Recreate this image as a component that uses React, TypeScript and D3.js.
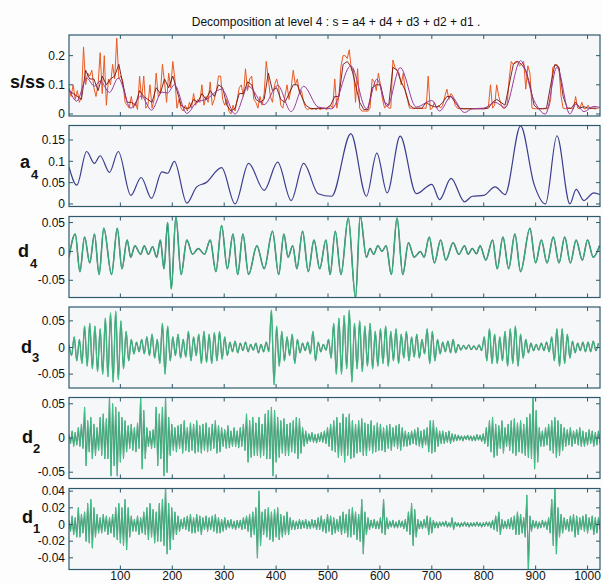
import React from "react";
import * as d3 from "d3";

const xTicks = [100, 200, 300, 400, 500, 600, 700, 800, 900, 1000];

// a4: level-4 approximation, turning points (sample index / value)
const a4Idx = [1, 16, 35, 50, 61, 79, 96, 120, 140, 160, 180, 191, 204, 228, 247, 265, 295, 321, 347, 377, 403, 429, 453, 481, 507, 544, 574, 594, 614, 639, 670, 700, 715, 737, 763, 778, 800, 822, 841, 871, 897, 919, 941, 966, 978, 993, 1012, 1024];
const a4Val = [0.087, 0.044, 0.123, 0.095, 0.113, 0.074, 0.123, 0.02, 0.062, 0.013, 0.075, 0.072, 0.1, 0.002, 0.04, 0.05, 0.085, 0.0, 0.095, 0.032, 0.098, 0.008, 0.095, 0.024, 0.018, 0.165, 0.018, 0.119, 0.026, 0.159, 0.024, 0.046, 0.01, 0.06, 0.005, 0.018, 0.02, 0.04, 0.022, 0.183, 0.046, 0.0, 0.16, 0.0, 0.034, 0.008, 0.026, 0.022];

// s: signal, every 4th sample starting at 1
const sVal = [
  0.09, 0.06, 0.1, 0.05, 0.08, 0.04, 0.06, 0.23, 0.1, 0.14,
  0.13, 0.15, 0.09, 0.06, 0.1, 0.21, 0.07, 0.2, 0.03, 0.12,
  0.1, 0.17, 0.12, 0.26, 0.12, 0.13, 0.11, 0.04, 0.03, 0.02,
  0.06, 0.02, 0.04, 0.015, 0.13, 0.05, 0.13, 0.02, 0.03, 0.1,
  0.02, 0.05, 0.14, 0.06, 0.07, 0.17, 0.11, 0.04, 0.14, 0.09,
  0.18, 0.12, 0.02, 0.05, 0.02, 0.01, 0.03, 0.01, 0.04, 0.02,
  0.07, 0.03, 0.05, 0.04, 0.1, 0.03, 0.06, 0.04, 0.11, 0.03,
  0.05, 0.08, 0.13, 0.13, 0.05, 0.03, 0.05, 0.01, 0.0, 0.03,
  0.01, 0.05, 0.09, 0.1, 0.06, 0.155, 0.08, 0.12, 0.13, 0.05,
  0.04, 0.02, 0.06, 0.03, 0.07, 0.18, 0.12, 0.06, 0.04, 0.1,
  0.12, 0.09, 0.03, 0.02, 0.06, 0.1, 0.05, 0.09, 0.15, 0.1,
  0.12, 0.07, 0.08, 0.04, 0.02, 0.015, 0.02, 0.015, 0.02, 0.015,
  0.02, 0.015, 0.02, 0.02, 0.015, 0.02, 0.03, 0.02, 0.12, 0.02,
  0.06, 0.165, 0.2, 0.2, 0.19, 0.22, 0.15, 0.155, 0.04, 0.155,
  0.02, 0.01, 0.01, 0.01, 0.01, 0.02, 0.12, 0.11, 0.08, 0.14,
  0.1, 0.05, 0.02, 0.03, 0.02, 0.02, 0.185, 0.16, 0.15, 0.14,
  0.1, 0.14, 0.075, 0.05, 0.02, 0.02, 0.018, 0.02, 0.018, 0.02,
  0.018, 0.02, 0.02, 0.13, 0.015, 0.02, 0.04, 0.02, 0.03, 0.02,
  0.03, 0.06, 0.085, 0.05, 0.07, 0.06, 0.03, 0.02, 0.018, 0.018,
  0.018, 0.018, 0.018, 0.018, 0.018, 0.018, 0.018, 0.018, 0.018, 0.018,
  0.018, 0.02, 0.025, 0.1, 0.02, 0.03, 0.1, 0.06, 0.035, 0.02,
  0.02, 0.03, 0.12, 0.18, 0.17, 0.18, 0.18, 0.165, 0.17, 0.18,
  0.085, 0.165, 0.14, 0.02, 0.018, 0.018, 0.018, 0.018, 0.018, 0.018,
  0.018, 0.02, 0.05, 0.16, 0.165, 0.17, 0.155, 0.06, 0.02, 0.018,
  0.018, 0.02, 0.018, 0.018, 0.06, 0.02, 0.018, 0.04, 0.018, 0.018,
  0.03, 0.018, 0.02, 0.018, 0.018, 0.02,
];

// ss: dark trace, every 8th sample starting at 1
const ssVal = [
  0.08, 0.07, 0.06, 0.05, 0.15, 0.12, 0.12, 0.08, 0.13, 0.1,
  0.12, 0.13, 0.17, 0.1, 0.04, 0.04, 0.03, 0.08, 0.06, 0.05,
  0.04, 0.09, 0.07, 0.12, 0.09, 0.13, 0.08, 0.03, 0.02, 0.02,
  0.05, 0.04, 0.07, 0.05, 0.08, 0.06, 0.1, 0.09, 0.03, 0.01,
  0.02, 0.07, 0.07, 0.11, 0.1, 0.05, 0.04, 0.05, 0.14, 0.08,
  0.09, 0.05, 0.04, 0.07, 0.1, 0.1, 0.06, 0.03, 0.02, 0.018,
  0.02, 0.018, 0.02, 0.03, 0.06, 0.06, 0.17, 0.18, 0.16, 0.1,
  0.04, 0.015, 0.015, 0.09, 0.1, 0.1, 0.04, 0.03, 0.16, 0.15,
  0.11, 0.08, 0.03, 0.02, 0.02, 0.02, 0.04, 0.03, 0.025, 0.025,
  0.04, 0.06, 0.06, 0.04, 0.02, 0.018, 0.018, 0.018, 0.018, 0.018,
  0.018, 0.02, 0.04, 0.05, 0.04, 0.03, 0.1, 0.17, 0.18, 0.17,
  0.15, 0.1, 0.03, 0.018, 0.018, 0.02, 0.1, 0.17, 0.16, 0.06,
  0.02, 0.02, 0.04, 0.02, 0.025, 0.02, 0.02, 0.02,
];

// d4: turning points (sample index / value)
const d4Idx = [1, 13, 22, 31, 41, 50, 59, 68, 83, 94, 103, 113, 120, 128, 139, 146, 154, 162, 170, 177, 184, 191, 198, 207, 217, 228, 239, 250, 262, 273, 284, 295, 306, 317, 326, 336, 347, 363, 377, 393, 405, 415, 423, 432, 440, 451, 462, 473, 484, 496, 504, 514, 525, 539, 553, 562, 574, 581, 588, 596, 604, 612, 622, 633, 644, 655, 666, 678, 685, 695, 705, 717, 727, 741, 752, 763, 770, 778, 786, 793, 804, 817, 826, 837, 848, 860, 871, 889, 900, 911, 922, 934, 945, 956, 967, 978, 990, 1000, 1011, 1023];
const d4Val = [-0.01, 0.03, -0.035, 0.025, -0.02, 0.03, -0.04, 0.04, -0.04, 0.04, -0.03, 0.02, -0.01, 0.01, -0.005, 0.01, -0.005, 0.008, -0.01, 0.02, -0.03, 0.05, -0.065, 0.06, -0.04, 0.02, -0.005, 0.005, -0.005, 0.02, -0.035, 0.045, -0.03, 0.03, -0.04, 0.03, -0.04, 0.01, -0.03, 0.035, -0.04, 0.03, -0.01, 0.01, -0.03, 0.035, -0.035, 0.02, -0.03, 0.02, -0.04, 0.035, -0.04, 0.058, -0.08, 0.062, -0.01, 0.005, -0.005, 0.01, 0.0, 0.01, -0.04, 0.058, -0.04, 0.015, -0.01, 0.0, -0.01, 0.025, -0.02, 0.02, -0.015, 0.015, -0.005, 0.01, -0.005, 0.005, -0.004, 0.01, -0.015, 0.02, -0.03, 0.025, -0.03, 0.03, -0.035, 0.04, -0.02, 0.02, -0.02, 0.025, -0.02, 0.025, -0.02, 0.02, -0.015, 0.02, -0.01, 0.01];

// d3: every 5th sample from 1, in units of 1e-3
const d3Val = [
  5, -15, 20, -25, 15, -30, 40, -35, 45, -40,
  40, -45, 35, -50, 55, -55, 65, -65, 68, -60,
  50, -40, 30, -25, 15, -12, 10, -8, 15, -12,
  20, -15, 25, -20, 15, -30, 45, -50, 40, -25,
  20, -15, 25, -20, 15, -18, 30, -25, 20, -15,
  25, -30, 30, -28, 25, -30, 28, -25, 30, -22,
  20, -15, 10, -8, 12, -10, 8, -6, 10, -8,
  6, -5, 8, -10, 6, -8, 10, -8, 70, -70,
  40, -35, 30, -25, 20, -15, 25, -30, 15, -10,
  8, -6, 10, -12, 30, -25, 10, -8, 6, -5,
  15, -20, 45, -50, 55, -50, 60, -40, 70, -65,
  45, -40, 50, -45, 40, -35, 45, -40, 30, -35,
  35, -30, 40, -35, 30, -25, 35, -30, 25, -20,
  30, -25, 20, -18, 25, -20, 15, -12, 35, -30,
  30, -25, 15, -12, 10, -8, 12, -10, 15, -10,
  6, -5, 4, -3, 5, -4, 3, -4, 5, -6,
  20, -25, 35, -30, 25, -30, 20, -25, 30, -35,
  35, -30, 40, -35, 25, -20, 15, -10, 8, -6,
  6, -5, 8, -6, 10, -8, 20, -25, 35, -35,
  35, -30, 25, -20, 12, -10, 8, -6, 10, -8,
  10, -8, 12, -6, 8,
];

// d2: every 3rd sample from 1, in units of 1e-3
const d2Val = [
  5, -8, 10, -12, 8, -10, 15, -12, 20, -15,
  45, -40, 25, -20, 30, -30, 20, -25, 15, -18,
  30, -25, 35, -30, 28, -30, 60, -55, 50, -40,
  45, -55, 38, -35, 30, -30, 25, -20, 18, -15,
  20, -18, 15, -20, 22, -15, 60, -45, 40, -30,
  15, -12, 10, -15, 12, -14, 45, -40, 35, -30,
  45, -55, 60, -50, 30, -25, 20, -18, 15, -20,
  18, -15, 20, -22, 25, -18, 15, -20, 22, -18,
  20, -22, 25, -20, 18, -22, 20, -18, 22, -20,
  15, -18, 20, -15, 25, -22, 18, -20, 15, -12,
  12, -15, 18, -14, 10, -12, 15, -12, 10, -14,
  15, -12, 20, -18, 35, -35, 25, -28, 30, -25,
  22, -25, 30, -28, 20, -25, 35, -30, 40, -30,
  45, -55, 40, -35, 30, -28, 25, -22, 28, -25,
  20, -25, 22, -20, 25, -22, 30, -30, 28, -22,
  15, -12, 10, -8, 6, -5, 8, -6, 5, -7,
  6, -5, 8, -6, 10, -8, 15, -12, 20, -18,
  25, -20, 30, -28, 22, -25, 35, -35, 30, -25,
  35, -30, 25, -28, 20, -22, 25, -20, 28, -25,
  22, -25, 20, -18, 25, -22, 18, -20, 22, -18,
  20, -18, 15, -20, 18, -15, 20, -18, 15, -12,
  18, -15, 20, -18, 15, -12, 10, -12, 8, -10,
  10, -8, 12, -10, 15, -12, 10, -14, 12, -10,
  15, -20, 25, -22, 25, -20, 15, -12, 10, -8,
  10, -8, 8, -6, 10, -8, 6, -5, 5, -4,
  4, -3, 3, -4, 3, -2, 4, -3, 3, -4,
  3, -4, 5, -3, 4, -5, 6, -8, 15, -12,
  25, -20, 30, -28, 20, -25, 18, -15, 25, -22,
  15, -12, 20, -18, 25, -22, 28, -25, 22, -20,
  25, -22, 20, -25, 30, -28, 35, -30, 60, -45,
  40, -35, 15, -12, 10, -12, 15, -10, 20, -18,
  25, -22, 30, -28, 25, -25, 20, -18, 15, -12,
  12, -10, 15, -12, 10, -8, 12, -10, 15, -12,
  10, -12, 8, -10, 12, -8, 10, -12, 8, -10,
  10, -8,
];

// d1: every 3rd sample from 1, in units of 1e-3
const d1Val = [
  5, -8, 10, -12, 8, -15, 20, -15, 12, -10,
  15, -20, 25, -22, 30, -28, 20, -15, 12, -10,
  8, -10, 12, -8, 10, -12, 8, -10, 12, -15,
  20, -18, 25, -22, 20, -25, 30, -30, 20, -15,
  10, -8, 6, -8, 10, -12, 8, -10, 15, -12,
  20, -18, 25, -15, 18, -22, 15, -20, 25, -20,
  30, -25, 45, -35, 25, -30, 20, -18, 15, -12,
  10, -8, 6, -5, 8, -6, 10, -8, 12, -10,
  8, -10, 12, -8, 10, -12, 8, -6, 10, -8,
  8, -6, 10, -8, 12, -10, 8, -10, 6, -8,
  8, -6, 5, -4, 6, -5, 4, -6, 5, -4,
  5, -6, 8, -5, 10, -8, 12, -15, 15, -12,
  20, -40, 40, -25, 15, -12, 18, -15, 20, -18,
  15, -20, 18, -15, 20, -18, 12, -15, 10, -12,
  15, -12, 8, -6, 5, -6, 4, -5, 6, -5,
  5, -4, 6, -5, 4, -5, 6, -4, 5, -6,
  8, -6, 10, -8, 6, -10, 12, -8, 10, -12,
  8, -10, 6, -8, 10, -12, 15, -10, 12, -15,
  18, -15, 20, -12, 15, -18, 12, -20, 30, -35,
  15, -12, 8, -6, 5, -4, 6, -5, 4, -5,
  8, -10, 30, -12, 8, -5, 4, -3, 5, -4,
  3, -4, 5, -3, 4, -5, 6, -8, 15, -12,
  25, -25, 18, -15, 6, -5, 4, -5, 6, -4,
  10, -12, 8, -10, 5, -4, 3, -4, 3, -2,
  3, -2, 4, -3, 2, -3, 8, -6, 3, -2,
  2, -3, 2, -2, 3, -2, 2, -3, 2, -2,
  2, -2, 3, -2, 2, -3, 2, -2, 3, -2,
  3, -4, 5, -6, 10, -8, 15, -12, 6, -5,
  4, -5, 6, -5, 8, -6, 10, -12, 15, -12,
  12, -10, 8, -15, 35, -55, 10, -8, 5, -4,
  4, -5, 3, -4, 5, -3, 4, -6, 8, -10,
  30, -25, 45, -35, 20, -15, 12, -10, 8, -6,
  6, -8, 10, -8, 12, -15, 10, -12, 8, -6,
  10, -8, 12, -10, 8, -6, 10, -12, 8, -10,
  8, -6,
];

const W = 603;
const H = 583;
const LEFT = 69;
const RIGHT = 600;
const PANEL_H = 81;
const FONT = "'Liberation Sans', Arial, Helvetica, sans-serif";
const FRAME = "#2e5a6c";

type Pt = [number, number];

const x = d3.scaleLinear().domain([1, 1024]).range([LEFT, RIGHT]);

const stepPts = (vals: number[], step: number, k = 1): Pt[] =>
  vals.map((v, i) => [1 + i * step, v * k]);
const pairPts = (idx: number[], vals: number[]): Pt[] =>
  idx.map((d, i) => [d, vals[i]]);

type Series = {
  pts: Pt[];
  color: string;
  width: number;
  curve?: d3.CurveFactory;
  under?: string;
  underW?: number;
};

type PanelDef = {
  id: string;
  top: number;
  domain: [number, number];
  ticks: number[];
  series: Series[];
  label: string;
  sub?: string;
  labelPos: { x: number; y: number; sx?: number; sy?: number };
  xLabels?: boolean;
};

const green = "#3fd592";
const dark = "#123f2b";

const panels: PanelDef[] = [
  {
    id: "s",
    top: 35,
    domain: [-0.0069, 0.2707],
    ticks: [0, 0.1, 0.2],
    series: [
      { pts: stepPts(sVal, 4), color: "#ea5a22", width: 1 },
      { pts: stepPts(ssVal, 8), color: "#701515", width: 0.9 },
      { pts: pairPts(a4Idx, a4Val), color: "#9a3a9e", width: 1, curve: d3.curveMonotoneX },
    ],
    label: "s/ss",
    labelPos: { x: 10, y: 88 },
  },
  {
    id: "a4",
    top: 125.5,
    domain: [-0.006, 0.184],
    ticks: [0, 0.05, 0.1, 0.15],
    series: [{ pts: pairPts(a4Idx, a4Val), color: "#3b3d8f", width: 1.2, curve: d3.curveMonotoneX }],
    label: "a",
    sub: "4",
    labelPos: { x: 20, y: 168, sx: 31, sy: 179 },
  },
  {
    id: "d4",
    top: 216.5,
    domain: [-0.0798, 0.0605],
    ticks: [-0.05, 0, 0.05],
    series: [{ pts: pairPts(d4Idx, d4Val), color: "#34c08a", width: 0.9, curve: d3.curveMonotoneX, under: dark, underW: 1.5 }],
    label: "d",
    sub: "4",
    labelPos: { x: 18, y: 257, sx: 30, sy: 268 },
  },
  {
    id: "d3",
    top: 307,
    domain: [-0.076, 0.076],
    ticks: [-0.05, 0, 0.05],
    series: [{ pts: stepPts(d3Val, 5, 1e-3), color: green, width: 0.8, curve: d3.curveMonotoneX, under: dark, underW: 1.3 }],
    label: "d",
    sub: "3",
    labelPos: { x: 21, y: 353, sx: 32, sy: 362 },
  },
  {
    id: "d2",
    top: 397.5,
    domain: [-0.0592, 0.0592],
    ticks: [-0.05, 0, 0.05],
    series: [{ pts: stepPts(d2Val, 3, 1e-3), color: green, width: 0.7, under: dark, underW: 1.1 }],
    label: "d",
    sub: "2",
    labelPos: { x: 22, y: 443, sx: 33, sy: 453 },
  },
  {
    id: "d1",
    top: 488.5,
    domain: [-0.054, 0.0432],
    ticks: [-0.04, -0.02, 0, 0.02, 0.04],
    series: [{ pts: stepPts(d1Val, 3, 1e-3), color: green, width: 0.7, under: dark, underW: 1.1 }],
    label: "d",
    sub: "1",
    labelPos: { x: 22, y: 523, sx: 33, sy: 533 },
    xLabels: true,
  },
];

const fmt = (v: number) => (v === 0 ? "0" : String(+v.toFixed(3)));

function Panel({ p }: { p: PanelDef }) {
  const bottom = p.top + PANEL_H;
  const y = d3.scaleLinear().domain(p.domain).range([bottom, p.top]);
  const clipId = `clip-${p.id}`;
  const tl = 4;
  return (
    <g>
      <defs>
        <clipPath id={clipId}>
          <rect x={LEFT} y={p.top} width={RIGHT - LEFT} height={PANEL_H} />
        </clipPath>
      </defs>
      <rect x={LEFT} y={p.top} width={RIGHT - LEFT} height={PANEL_H} fill="#f6f7f9" />
      <g clipPath={`url(#${clipId})`}>
        {p.series.map((s, i) => {
          const line = d3
            .line<Pt>()
            .x((d) => x(d[0]))
            .y((d) => y(d[1]))
            .curve(s.curve ?? d3.curveLinear);
          const d = line(s.pts) ?? "";
          return (
            <g key={i}>
              {s.under && (
                <path d={d} fill="none" stroke={s.under} strokeWidth={s.underW} strokeLinejoin="round" opacity={0.8} />
              )}
              <path d={d} fill="none" stroke={s.color} strokeWidth={s.width} strokeLinejoin="round" />
            </g>
          );
        })}
      </g>
      <rect x={LEFT} y={p.top} width={RIGHT - LEFT} height={PANEL_H} fill="none" stroke={FRAME} strokeWidth={1.2} />
      {xTicks.map((t) => (
        <g key={t} stroke={FRAME} strokeWidth={1}>
          <line x1={x(t)} x2={x(t)} y1={p.top} y2={p.top + tl} />
          <line x1={x(t)} x2={x(t)} y1={bottom} y2={bottom - tl} />
        </g>
      ))}
      {p.ticks.map((t) => (
        <g key={t}>
          <line x1={LEFT} x2={LEFT + tl} y1={y(t)} y2={y(t)} stroke={FRAME} />
          <line x1={RIGHT} x2={RIGHT - tl} y1={y(t)} y2={y(t)} stroke={FRAME} />
          <text x={65} y={y(t)} dy="0.35em" textAnchor="end" fontSize={12} fontFamily={FONT} fill="#111">
            {fmt(t)}
          </text>
        </g>
      ))}
      {p.xLabels &&
        xTicks.map((t) => (
          <text key={t} x={x(t)} y={bottom + 10} textAnchor="middle" fontSize={12} fontFamily={FONT} fill="#111">
            {t}
          </text>
        ))}
      <text x={p.labelPos.x} y={p.labelPos.y} fontSize={18} fontWeight="bold" fontFamily={FONT} fill="#111">
        {p.label}
      </text>
      {p.sub && (
        <text x={p.labelPos.sx} y={p.labelPos.sy} fontSize={13} fontWeight="bold" fontFamily={FONT} fill="#111">
          {p.sub}
        </text>
      )}
    </g>
  );
}

export default function App() {
  return (
    <svg width={W} height={H} style={{ position: "absolute", left: 0, top: 0 }}>
      <rect width={W} height={H} fill="#fdfdfd" />
      <text x={336} y={26} textAnchor="middle" fontSize={12} fontFamily={FONT} fill="#111">
        Decomposition at level 4 : s = a4 + d4 + d3 + d2 + d1 .
      </text>
      {panels.map((p) => (
        <Panel key={p.id} p={p} />
      ))}
    </svg>
  );
}
